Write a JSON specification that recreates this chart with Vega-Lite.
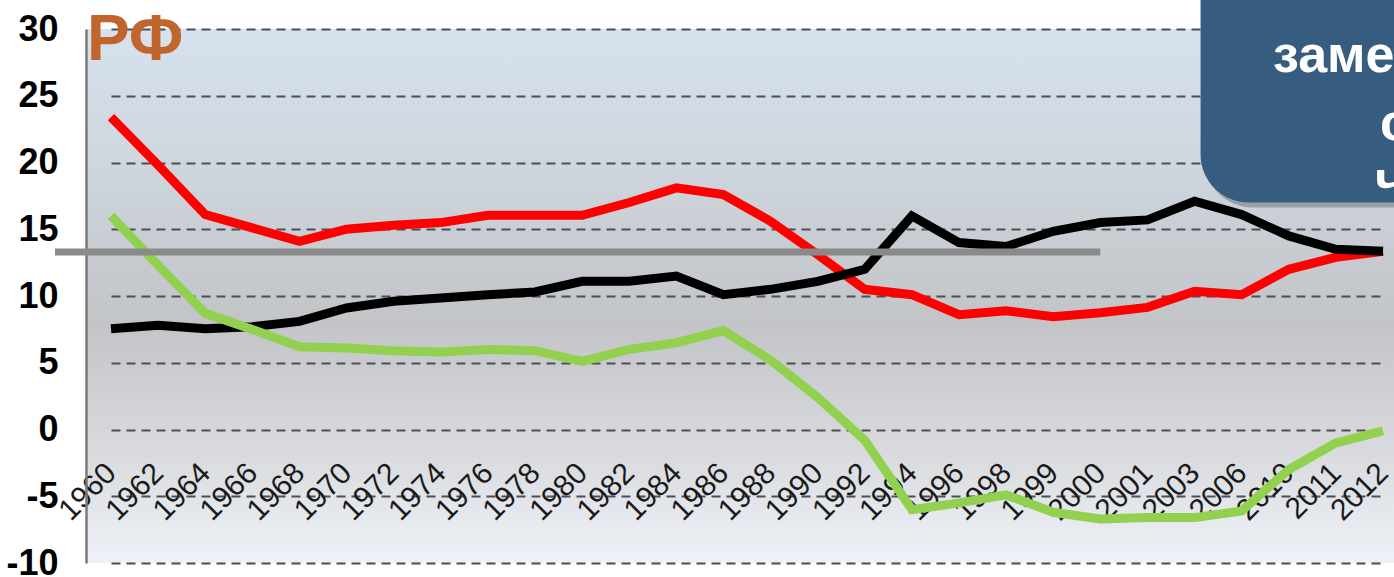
{
  "$schema": "https://vega.github.io/schema/vega-lite/v6.json",
  "width": 1308,
  "height": 534,
  "autosize": {"type": "none"},
  "padding": {"left": 86, "top": 29, "right": 0, "bottom": 14},
  "background": "white",
  "config": {
    "font": "Liberation Sans",
    "view": {
      "stroke": null,
      "fill": {
        "gradient": "linear", "x1": 0, "y1": 0, "x2": 0, "y2": 1,
        "stops": [
          {"offset": 0, "color": "#d6e2ee"},
          {"offset": 0.25, "color": "#cfd6de"},
          {"offset": 0.55, "color": "#c2c4c7"},
          {"offset": 0.8, "color": "#d9dbde"},
          {"offset": 1, "color": "#eef2f8"}
        ]
      }
    }
  },
  "datasets": {
    "rates": [
      {"year": "1960", "series": "Рождаемость", "value": 23.4},
      {"year": "1962", "series": "Рождаемость", "value": 19.8},
      {"year": "1964", "series": "Рождаемость", "value": 16.1},
      {"year": "1966", "series": "Рождаемость", "value": 15.1},
      {"year": "1968", "series": "Рождаемость", "value": 14.1},
      {"year": "1970", "series": "Рождаемость", "value": 15.0},
      {"year": "1972", "series": "Рождаемость", "value": 15.3},
      {"year": "1974", "series": "Рождаемость", "value": 15.5},
      {"year": "1976", "series": "Рождаемость", "value": 16.05},
      {"year": "1978", "series": "Рождаемость", "value": 16.05},
      {"year": "1980", "series": "Рождаемость", "value": 16.05},
      {"year": "1982", "series": "Рождаемость", "value": 17.0},
      {"year": "1984", "series": "Рождаемость", "value": 18.1},
      {"year": "1986", "series": "Рождаемость", "value": 17.6},
      {"year": "1988", "series": "Рождаемость", "value": 15.6},
      {"year": "1990", "series": "Рождаемость", "value": 13.1},
      {"year": "1992", "series": "Рождаемость", "value": 10.5},
      {"year": "1994", "series": "Рождаемость", "value": 10.1},
      {"year": "1996", "series": "Рождаемость", "value": 8.6},
      {"year": "1998", "series": "Рождаемость", "value": 8.9},
      {"year": "1999", "series": "Рождаемость", "value": 8.45},
      {"year": "2000", "series": "Рождаемость", "value": 8.75},
      {"year": "2001", "series": "Рождаемость", "value": 9.15},
      {"year": "2003", "series": "Рождаемость", "value": 10.35},
      {"year": "2006", "series": "Рождаемость", "value": 10.1},
      {"year": "2010", "series": "Рождаемость", "value": 12.0},
      {"year": "2011", "series": "Рождаемость", "value": 12.9},
      {"year": "2012", "series": "Рождаемость", "value": 13.35},
      {"year": "1960", "series": "Смертность", "value": 7.55},
      {"year": "1962", "series": "Смертность", "value": 7.8},
      {"year": "1964", "series": "Смертность", "value": 7.55},
      {"year": "1966", "series": "Смертность", "value": 7.7},
      {"year": "1968", "series": "Смертность", "value": 8.1},
      {"year": "1970", "series": "Смертность", "value": 9.1},
      {"year": "1972", "series": "Смертность", "value": 9.6},
      {"year": "1974", "series": "Смертность", "value": 9.85},
      {"year": "1976", "series": "Смертность", "value": 10.1},
      {"year": "1978", "series": "Смертность", "value": 10.3},
      {"year": "1980", "series": "Смертность", "value": 11.1},
      {"year": "1982", "series": "Смертность", "value": 11.1},
      {"year": "1984", "series": "Смертность", "value": 11.5},
      {"year": "1986", "series": "Смертность", "value": 10.1},
      {"year": "1988", "series": "Смертность", "value": 10.5},
      {"year": "1990", "series": "Смертность", "value": 11.1},
      {"year": "1992", "series": "Смертность", "value": 12.0},
      {"year": "1994", "series": "Смертность", "value": 16.0},
      {"year": "1996", "series": "Смертность", "value": 14.0},
      {"year": "1998", "series": "Смертность", "value": 13.7},
      {"year": "1999", "series": "Смертность", "value": 14.85},
      {"year": "2000", "series": "Смертность", "value": 15.5},
      {"year": "2001", "series": "Смертность", "value": 15.7},
      {"year": "2003", "series": "Смертность", "value": 17.1},
      {"year": "2006", "series": "Смертность", "value": 16.1},
      {"year": "2010", "series": "Смертность", "value": 14.5},
      {"year": "2011", "series": "Смертность", "value": 13.5},
      {"year": "2012", "series": "Смертность", "value": 13.35},
      {"year": "1960", "series": "Естественный прирост", "value": 16.0},
      {"year": "1962", "series": "Естественный прирост", "value": 12.3},
      {"year": "1964", "series": "Естественный прирост", "value": 8.7},
      {"year": "1966", "series": "Естественный прирост", "value": 7.5},
      {"year": "1968", "series": "Естественный прирост", "value": 6.2},
      {"year": "1970", "series": "Естественный прирост", "value": 6.1},
      {"year": "1972", "series": "Естественный прирост", "value": 5.9},
      {"year": "1974", "series": "Естественный прирост", "value": 5.8},
      {"year": "1976", "series": "Естественный прирост", "value": 6.0},
      {"year": "1978", "series": "Естественный прирост", "value": 5.9},
      {"year": "1980", "series": "Естественный прирост", "value": 5.1},
      {"year": "1982", "series": "Естественный прирост", "value": 6.0},
      {"year": "1984", "series": "Естественный прирост", "value": 6.5},
      {"year": "1986", "series": "Естественный прирост", "value": 7.4},
      {"year": "1988", "series": "Естественный прирост", "value": 5.2},
      {"year": "1990", "series": "Естественный прирост", "value": 2.4},
      {"year": "1992", "series": "Естественный прирост", "value": -0.8},
      {"year": "1994", "series": "Естественный прирост", "value": -6.0},
      {"year": "1996", "series": "Естественный прирост", "value": -5.5},
      {"year": "1998", "series": "Естественный прирост", "value": -4.9},
      {"year": "1999", "series": "Естественный прирост", "value": -6.2},
      {"year": "2000", "series": "Естественный прирост", "value": -6.7},
      {"year": "2001", "series": "Естественный прирост", "value": -6.6},
      {"year": "2003", "series": "Естественный прирост", "value": -6.6},
      {"year": "2006", "series": "Естественный прирост", "value": -6.1},
      {"year": "2010", "series": "Естественный прирост", "value": -3.0},
      {"year": "2011", "series": "Естественный прирост", "value": -1.0},
      {"year": "2012", "series": "Естественный прирост", "value": -0.1}
    ]
  },
  "layer": [
    {
      "data": {"name": "rates"},
      "mark": {"type": "line", "strokeWidth": 9, "strokeJoin": "miter", "strokeCap": "butt"},
      "encoding": {
        "x": {
          "field": "year", "type": "ordinal",
          "scale": {"type": "point", "range": [25, 1297], "padding": 0},
          "axis": {
            "orient": "bottom", "offset": -133, "domain": false, "ticks": false,
            "grid": false, "labelAngle": -45, "labelAlign": "right", "labelBaseline": "middle",
            "labelFontSize": 30, "labelColor": "#1a1a1a", "labelPadding": 38,
            "labelOverlap": false, "labelFont": "Liberation Sans", "title": null
          }
        },
        "y": {
          "field": "value", "type": "quantitative",
          "scale": {"domain": [-10, 30], "nice": false, "zero": false},
          "axis": {
            "values": [-10, -5, 0, 5, 10, 15, 20, 25, 30],
            "labelExpr": "datum.value < 0 ? '-' + abs(datum.value) : '' + datum.value",
            "grid": true, "gridDash": [9, 6], "gridColor": "#4a4f55", "gridWidth": 2,
            "domain": true, "domainColor": "#7a7a7a", "domainWidth": 2.5,
            "ticks": false, "labelFontSize": 36, "labelFontWeight": "bold",
            "labelColor": "#000000", "labelPadding": 28, "labelFlush": false,
            "labelFont": "Liberation Sans", "title": null
          }
        },
        "color": {
          "field": "series", "type": "nominal",
          "scale": {"domain": ["Рождаемость", "Смертность", "Естественный прирост"], "range": ["#ff0000", "#000000", "#92d050"]},
          "legend": null
        }
      }
    },
    {
      "data": {"values": [{}]},
      "mark": {"type": "rule", "color": "#8a8a8a", "strokeWidth": 7, "clip": false, "xOffset": -56},
      "encoding": {
        "x": {"datum": "1960", "type": "ordinal"},
        "x2": {"datum": "2000"},
        "y": {"datum": 13.3, "type": "quantitative"}
      }
    },
    {
      "data": {"values": [{}]},
      "mark": {"type": "text", "text": "РФ", "align": "left", "baseline": "alphabetic", "dx": -24, "dy": 31, "fontSize": 64, "fontWeight": "bold", "color": "#c0652c", "font": "Liberation Sans", "clip": false},
      "encoding": {
        "x": {"datum": "1960", "type": "ordinal"},
        "y": {"datum": 30, "type": "quantitative"}
      }
    },
    {
      "data": {"values": [{}]},
      "mark": {"type": "rect", "color": "#5a6470", "opacity": 0.45, "cornerRadius": 48, "clip": false, "xOffset": 10, "x2Offset": 80, "yOffset": 5, "y2Offset": 5},
      "encoding": {
        "x": {"datum": "2003", "type": "ordinal"},
        "x2": {"datum": "2012"},
        "y": {"datum": 36, "type": "quantitative"},
        "y2": {"datum": 17.0}
      }
    },
    {
      "data": {"values": [{}]},
      "mark": {"type": "rect", "color": "#365d80", "cornerRadius": 48, "clip": false, "xOffset": 6, "x2Offset": 80},
      "encoding": {
        "x": {"datum": "2003", "type": "ordinal"},
        "x2": {"datum": "2012"},
        "y": {"datum": 36, "type": "quantitative"},
        "y2": {"datum": 17.0}
      }
    },
    {
      "data": {"values": [{}]},
      "mark": {"type": "text", "text": "заме", "align": "left", "baseline": "alphabetic", "fontSize": 52, "fontWeight": "bold", "color": "#ffffff", "clip": false, "dx": -110, "font": "Liberation Sans"},
      "encoding": {
        "x": {"datum": "2012", "type": "ordinal"},
        "y": {"datum": 26.8, "type": "quantitative"}
      }
    },
    {
      "data": {"values": [{}]},
      "mark": {"type": "text", "text": "с", "align": "left", "baseline": "alphabetic", "fontSize": 52, "fontWeight": "bold", "color": "#ffffff", "clip": false, "dx": -3, "font": "Liberation Sans"},
      "encoding": {
        "x": {"datum": "2012", "type": "ordinal"},
        "y": {"datum": 21.7, "type": "quantitative"}
      }
    },
    {
      "data": {"values": [{}]},
      "mark": {"type": "text", "text": "ч", "align": "left", "baseline": "alphabetic", "fontSize": 52, "fontWeight": "bold", "color": "#ffffff", "clip": false, "dx": -8, "font": "Liberation Sans"},
      "encoding": {
        "x": {"datum": "2012", "type": "ordinal"},
        "y": {"datum": 17.45, "type": "quantitative"}
      }
    }
  ]
}
